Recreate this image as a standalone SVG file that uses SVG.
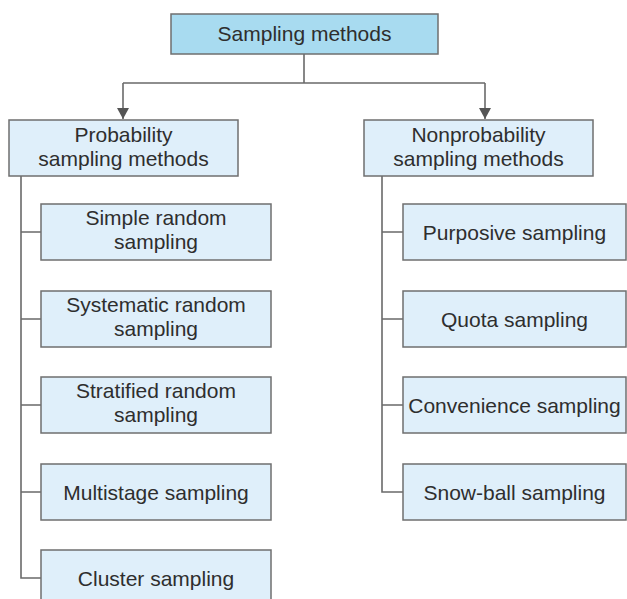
<svg xmlns="http://www.w3.org/2000/svg" width="627" height="599" viewBox="0 0 627 599">
<style>
.box{fill:#dfeffa;stroke:#6f6f6f;stroke-width:1.5}
.top{fill:#a8dbf0;stroke:#6f6f6f;stroke-width:1.5}
.t{font-family:"Liberation Sans",Arial,sans-serif;font-size:21px;fill:#2e2e2e;text-anchor:middle}
.c{fill:none;stroke:#6a6a6a;stroke-width:1.6}
</style>
<defs>
<marker id="ah" markerWidth="11" markerHeight="12" refX="11" refY="6" orient="auto" markerUnits="userSpaceOnUse" viewBox="0 0 11 12">
<path d="M0,0 L11,6 L0,12 Z" fill="#555"/>
</marker>
</defs>
<rect width="627" height="599" fill="#fff"/>
<g id="connectors">
<path class="c" d="M304,54 V83 M123,83 H485"/>
<line class="c" x1="123" y1="83" x2="123" y2="119" marker-end="url(#ah)"/>
<line class="c" x1="485" y1="83" x2="485" y2="119" marker-end="url(#ah)"/>
<path class="c" d="M21,176 V578 H41 M21,232 H41 M21,319 H41 M21,405 H41 M21,492 H41"/>
<path class="c" d="M382,176 V492 H403 M382,232 H403 M382,319 H403 M382,405 H403"/>
</g>
<g id="n-root"><rect class="top" x="171" y="14" width="267" height="40"/><text class="t" x="304.5" y="41">Sampling methods</text></g>
<g id="n-prob"><rect class="box" x="9" y="120" width="229" height="56"/><text class="t" x="123.5" y="141.5">Probability</text><text class="t" x="123.5" y="165.5">sampling methods</text></g>
<g id="n-nonprob"><rect class="box" x="364" y="120" width="229" height="56"/><text class="t" x="478.5" y="141.5">Nonprobability</text><text class="t" x="478.5" y="165.5">sampling methods</text></g>
<g id="n-simple"><rect class="box" x="41" y="204" width="230" height="56"/><text class="t" x="156" y="225">Simple random</text><text class="t" x="156" y="249">sampling</text></g>
<g id="n-systematic"><rect class="box" x="41" y="291" width="230" height="56"/><text class="t" x="156" y="312">Systematic random</text><text class="t" x="156" y="336">sampling</text></g>
<g id="n-stratified"><rect class="box" x="41" y="377" width="230" height="56"/><text class="t" x="156" y="398">Stratified random</text><text class="t" x="156" y="422">sampling</text></g>
<g id="n-multistage"><rect class="box" x="41" y="464" width="230" height="56"/><text class="t" x="156" y="499.5">Multistage sampling</text></g>
<g id="n-cluster"><rect class="box" x="41" y="550" width="230" height="56"/><text class="t" x="156" y="585.5">Cluster sampling</text></g>
<g id="n-purposive"><rect class="box" x="403" y="204" width="223" height="56"/><text class="t" x="514.5" y="239.5">Purposive sampling</text></g>
<g id="n-quota"><rect class="box" x="403" y="291" width="223" height="56"/><text class="t" x="514.5" y="326.5">Quota sampling</text></g>
<g id="n-convenience"><rect class="box" x="403" y="377" width="223" height="56"/><text class="t" x="514.5" y="412.5">Convenience sampling</text></g>
<g id="n-snowball"><rect class="box" x="403" y="464" width="223" height="56"/><text class="t" x="514.5" y="499.5">Snow-ball sampling</text></g>
</svg>
